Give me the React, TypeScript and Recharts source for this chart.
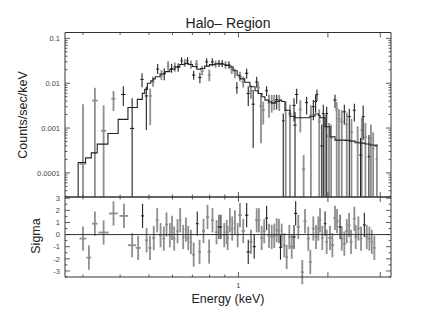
import React from 'react'
import {
  ComposedChart, Scatter, Line, ErrorBar, XAxis, YAxis, ReferenceLine,
} from 'recharts'

// bars that run off the bottom of the log panel end at the axis floor
const FLOOR = 2.9e-5

// [energy keV, half-width keV, rate, lower, upper]  (counts/sec/keV)
const blackSpec: number[][] = [
  [0.410, 0.007, 0.0056, 0.0031, 0.0085],
  [0.439, 0.007, 0.00098, FLOOR, 0.0046],
  [0.474, 0.006, 0.0121, 0.0081, 0.0166],
  [0.490, 0.006, 0.0052, 0.0009, 0.0083],
  [0.535, 0.006, 0.0206, 0.016, 0.0267],
  [0.563, 0.006, 0.0166, 0.0117, 0.0216],
  [0.596, 0.006, 0.0213, 0.017, 0.027],
  [0.627, 0.006, 0.0225, 0.018, 0.028],
  [0.644, 0.006, 0.0316, 0.026, 0.038],
  [0.674, 0.006, 0.0316, 0.026, 0.038],
  [0.707, 0.009, 0.0152, 0.012, 0.019],
  [0.742, 0.009, 0.0134, 0.010, 0.017],
  [0.782, 0.009, 0.0298, 0.024, 0.036],
  [0.817, 0.009, 0.0298, 0.024, 0.036],
  [0.860, 0.009, 0.0277, 0.023, 0.033],
  [0.882, 0.009, 0.0277, 0.023, 0.033],
  [0.929, 0.009, 0.0254, 0.021, 0.031],
  [0.988, 0.009, 0.0079, 0.0058, 0.0105],
  [1.066, 0.014, 0.0166, 0.0125, 0.021],
  [1.079, 0.014, 0.0059, 0.0031, 0.0085],
  [1.121, 0.014, 0.0034, 0.00036, 0.0070],
  [1.152, 0.014, 0.0107, 0.008, 0.014],
  [1.244, 0.014, 0.0068, 0.0052, 0.0085],
  [1.345, 0.014, 0.0043, 0.0026, 0.0055],
  [1.415, 0.014, 0.00145, FLOOR, 0.0021],
  [1.538, 0.02, 0.0032, 0.0014, 0.0046],
  [1.550, 0.02, 0.00116, FLOOR, 0.0023],
  [1.570, 0.02, 0.0056, 0.0035, 0.0075],
  [1.696, 0.02, 0.0037, 0.002, 0.005],
  [1.786, 0.02, 0.003, 0.0015, 0.0042],
  [1.818, 0.02, 0.0039, 0.0022, 0.0055],
  [1.837, 0.02, 0.0056, 0.004, 0.0072],
  [1.907, 0.02, 0.0004, FLOOR, 0.0012],
  [1.930, 0.02, 0.0021, FLOOR, 0.0033],
  [1.981, 0.02, 0.0021, FLOOR, 0.003],
  [2.113, 0.028, 0.0042, 0.0028, 0.0055],
  [2.271, 0.028, 0.0023, 0.0012, 0.0033],
  [2.360, 0.028, 0.0018, FLOOR, 0.0027],
  [2.454, 0.028, 0.0025, 0.0014, 0.0035],
  [2.575, 0.028, 0.00025, FLOOR, 0.0006],
  [2.628, 0.028, 0.0018, 0.00055, 0.0032],
  [2.747, 0.028, 0.00023, FLOOR, 0.0007],
]

const graySpec: number[][] = [
  [0.300, 0.008, 0.00016, FLOOR, 0.0034],
  [0.329, 0.007, 0.0041, FLOOR, 0.0079],
  [0.352, 0.007, 0.00087, FLOOR, 0.0032],
  [0.380, 0.006, 0.0045, 0.0024, 0.0067],
  [0.505, 0.006, 0.0052, 0.00116, 0.0076],
  [0.516, 0.006, 0.0107, 0.0083, 0.0139],
  [0.551, 0.006, 0.0152, 0.0117, 0.0196],
  [0.580, 0.006, 0.024, 0.019, 0.031],
  [0.611, 0.006, 0.0231, 0.018, 0.029],
  [0.660, 0.006, 0.0285, 0.023, 0.035],
  [0.692, 0.006, 0.0263, 0.021, 0.032],
  [0.723, 0.009, 0.0267, 0.021, 0.033],
  [0.755, 0.009, 0.0188, 0.015, 0.024],
  [0.798, 0.009, 0.0152, 0.011, 0.020],
  [0.838, 0.009, 0.0267, 0.022, 0.032],
  [0.905, 0.009, 0.0254, 0.021, 0.031],
  [0.949, 0.009, 0.0204, 0.016, 0.025],
  [0.973, 0.009, 0.017, 0.013, 0.021],
  [1.012, 0.014, 0.0139, 0.011, 0.018],
  [1.038, 0.014, 0.0107, 0.008, 0.014],
  [1.102, 0.014, 0.0067, 0.0045, 0.009],
  [1.166, 0.014, 0.0079, 0.0058, 0.0105],
  [1.191, 0.014, 0.0031, 0.00046, 0.0059],
  [1.212, 0.014, 0.0025, 0.0012, 0.0039],
  [1.267, 0.014, 0.0036, 0.0017, 0.0055],
  [1.294, 0.014, 0.0039, 0.0022, 0.0055],
  [1.320, 0.014, 0.0042, 0.0025, 0.0055],
  [1.372, 0.014, 0.0041, 0.0024, 0.0055],
  [1.442, 0.014, 0.0025, FLOOR, 0.0039],
  [1.491, 0.02, 0.0021, FLOOR, 0.0033],
  [1.615, 0.02, 0.0026, 0.0008, 0.0042],
  [1.657, 0.02, 0.00012, FLOOR, 0.00025],
  [1.753, 0.02, 0.0019, FLOOR, 0.0032],
  [1.870, 0.02, 0.0014, FLOOR, 0.0026],
  [1.956, 0.02, 0.0012, FLOOR, 0.002],
  [2.017, 0.028, 0.00066, FLOOR, 0.0013],
  [2.050, 0.028, 0.0006, FLOOR, 0.0012],
  [2.141, 0.028, 0.0026, FLOOR, 0.0038],
  [2.179, 0.028, 0.0016, FLOOR, 0.0026],
  [2.226, 0.028, 0.0014, FLOOR, 0.0025],
  [2.314, 0.028, 0.0012, FLOOR, 0.0022],
  [2.400, 0.028, 0.0008, FLOOR, 0.0016],
  [2.518, 0.028, 0.0005, FLOOR, 0.0011],
  [2.600, 0.028, 0.0009, FLOOR, 0.0017],
  [2.674, 0.028, 0.00062, FLOOR, 0.0013],
  [2.790, 0.028, 0.0006, FLOOR, 0.0012],
  [2.839, 0.028, 0.00035, FLOOR, 0.0008],
  [2.922, 0.028, 0.0002, FLOOR, 0.00044],
]

// folded model, [bin start keV, counts/sec/keV], drawn as a histogram
const model: number[][] = [
  [0.286, FLOOR], [0.289, 1.70e-4], [0.306, 2.16e-4], [0.320, 2.79e-4],
  [0.335, 4.37e-4], [0.364, 7.57e-4], [0.394, 1.56e-3], [0.425, 2.88e-3],
  [0.457, 4.35e-3], [0.475, 5.92e-3], [0.484, 7.27e-3], [0.494, 0.0100],
  [0.507, 0.0113], [0.516, 0.0125], [0.525, 0.0139], [0.545, 0.0160],
  [0.566, 0.0181], [0.588, 0.0205], [0.611, 0.0231], [0.635, 0.0262],
  [0.660, 0.0277], [0.680, 0.0262], [0.700, 0.0235], [0.725, 0.0204],
  [0.745, 0.0213], [0.770, 0.0240], [0.800, 0.0260], [0.835, 0.0270],
  [0.870, 0.0265], [0.905, 0.0250], [0.936, 0.0230], [0.960, 0.0190],
  [0.990, 0.0150], [1.012, 0.0125], [1.050, 0.0105], [1.093, 0.0083],
  [1.137, 0.0068], [1.166, 0.0059], [1.200, 0.0050], [1.228, 0.0042],
  [1.265, 0.0038], [1.294, 0.0036], [1.330, 0.0039], [1.370, 0.0042],
  [1.398, 0.0039], [1.434, 0.0025], [1.491, 0.00183], [1.550, 0.0017],
  [1.611, 0.0017], [1.675, 0.0017], [1.741, 0.00183], [1.810, 0.00206],
  [1.860, 0.0019], [1.881, 0.0017], [1.956, 0.00107], [2.033, 0.00064],
  [2.113, 0.000537], [2.197, 0.000537], [2.284, 0.00053], [2.374, 0.00051],
  [2.468, 0.00047], [2.566, 0.00046], [2.667, 0.00044], [2.772, 0.00042],
  [2.882, 0.0004], [2.93, 0.0004],
]

// residuals, [energy keV, half-width keV, sigma]
const blackResid: number[][] = [
  [0.476, 0.006, 1.54], [0.727, 0.008, 0.9], [0.860, 0.009, 0.63],
  [0.873, 0.009, 0.63], [1.066, 0.014, 1.6], [1.079, 0.014, -1.43],
  [1.130, 0.014, -1.0], [1.244, 0.014, 1.37], [1.385, 0.014, -1.07],
  [1.538, 0.02, -0.2], [1.558, 0.02, 1.74], [1.956, 0.02, 0.9],
  [2.197, 0.028, 0.63], [2.652, 0.028, 0.8],
]

const grayResid: number[][] = [
  [0.300, 0.008, -0.33], [0.314, 0.006, -1.9], [0.329, 0.007, 0.9],
  [0.352, 0.014, 0.17], [0.380, 0.013, 1.74], [0.412, 0.014, 1.54],
  [0.439, 0.014, -0.88], [0.460, 0.009, -1.1], [0.491, 0.006, -0.47],
  [0.504, 0.006, -1.1], [0.519, 0.006, -0.28], [0.533, 0.006, 1.18],
  [0.547, 0.006, -0.05], [0.561, 0.006, -0.33], [0.573, 0.006, 0.83],
  [0.588, 0.006, -0.05], [0.598, 0.006, 0.55], [0.608, 0.006, -0.33],
  [0.624, 0.006, 0.28], [0.637, 0.006, 1.18], [0.652, 0.006, -0.2],
  [0.666, 0.006, 0.41], [0.678, 0.006, -0.28], [0.692, 0.006, -0.61],
  [0.707, 0.008, -1.65], [0.740, 0.008, -1.43], [0.763, 0.009, 0.3],
  [0.787, 0.009, 1.45], [0.797, 0.009, -1.4], [0.818, 0.009, 1.18],
  [0.844, 0.009, 0.2], [0.896, 0.009, -0.05], [0.920, 0.009, -0.28],
  [0.913, 0.009, 0.2], [0.936, 0.009, 1.18], [0.953, 0.009, 0.5],
  [0.973, 0.009, 1.0], [0.994, 0.009, -0.05], [1.012, 0.014, 1.6],
  [1.038, 0.014, 0.3], [1.102, 0.014, -0.6], [1.152, 0.014, 1.18],
  [1.172, 0.014, 1.18], [1.197, 0.014, -0.28], [1.221, 0.014, 0.28],
  [1.267, 0.014, -0.1], [1.294, 0.014, -0.2], [1.320, 0.014, -0.1],
  [1.345, 0.014, 0.36], [1.369, 0.014, 0.28], [1.398, 0.014, -0.1],
  [1.427, 0.014, -0.88], [1.453, 0.014, -1.85], [1.483, 0.014, -0.2],
  [1.511, 0.02, -1.0], [1.590, 0.02, 0.63], [1.640, 0.02, -3.1],
  [1.675, 0.02, 1.1], [1.718, 0.02, -0.33], [1.745, 0.02, -2.26],
  [1.786, 0.02, 0.5], [1.824, 0.02, -0.2], [1.857, 0.02, 0.5],
  [1.881, 0.02, 1.18], [1.915, 0.02, -0.28], [1.981, 0.02, -0.6],
  [2.033, 0.028, -0.28], [2.070, 0.028, -0.88], [2.113, 0.028, 1.37],
  [2.146, 0.028, 1.1], [2.226, 0.028, -0.33], [2.271, 0.028, -0.75],
  [2.314, 0.028, 0.28], [2.356, 0.028, 0.77], [2.392, 0.028, -0.6],
  [2.454, 0.028, 1.3], [2.481, 0.028, -0.2], [2.532, 0.028, 0.5],
  [2.585, 0.028, -0.33], [2.702, 0.028, -0.2], [2.757, 0.028, -0.33],
  [2.809, 0.028, -0.6], [2.866, 0.028, -1.1],
]

const energyTicks = [0.3, 0.4, 0.5, 0.6, 0.7, 0.8, 0.9, 1, 2, 3]
const energyMajor = [1, 2, 3]
const energyLabels = [1]
const countTicks = [
  0.00003, 0.00004, 0.00005, 0.00006, 0.00007, 0.00008, 0.00009,
  0.0001, 0.0002, 0.0003, 0.0004, 0.0005, 0.0006, 0.0007, 0.0008, 0.0009,
  0.001, 0.002, 0.003, 0.004, 0.005, 0.006, 0.007, 0.008, 0.009,
  0.01, 0.02, 0.03, 0.04, 0.05, 0.06, 0.07, 0.08, 0.09, 0.1,
]
const countMajor = [0.0001, 0.001, 0.01, 0.1]
const sigmaTicks = [-3.5, -3, -2.5, -2, -1.5, -1, -0.5, 0, 0.5, 1, 1.5, 2, 2.5, 3]
const sigmaMajor = [-3, -2, -1, 0, 1, 2, 3]

const specRows = (a: number[][]) => a.map(([e, de, v, lo, hi]) => ({ e, de, v, lo, hi }))
const residRows = (a: number[][]) => a.map(([e, de, s]) => ({ e, de, s }))
const modelRows = model.map(([e, v]) => ({ e, v }))

const INK = '#222'
const GRAY = '#8e8e8e'
const FONT = '"Liberation Sans", Arial, Helvetica, sans-serif'
const E_DOMAIN: [number, number] = [0.261, 3.26]

type Side = 'left' | 'right' | 'top' | 'bottom'

// ticks drawn inward from the frame, labels outside
function frameTick(side: Side, major: number[], labels: number[]) {
  return (props: any) => {
    const { x, y, payload } = props
    const v = payload.value
    const isMajor = major.some(m => Math.abs(m - v) < 1e-9)
    const len = isMajor ? 5 : 2.5
    let x2 = x, y2 = y
    if (side === 'left') x2 = x + len
    if (side === 'right') x2 = x - len
    if (side === 'top') y2 = y + len
    if (side === 'bottom') y2 = y - len
    const showLabel = labels.some(m => Math.abs(m - v) < 1e-9)
    return (
      <g>
        <line x1={x} y1={y} x2={x2} y2={y2} stroke="#333" strokeWidth={0.8} />
        {showLabel && side === 'left' && (
          <text x={x - 5} y={y + 2.7} textAnchor="end" fontSize={7.5} fill="#444" fontFamily={FONT}>
            {String(v)}
          </text>
        )}
        {showLabel && side === 'bottom' && (
          <text x={x} y={y + 11} textAnchor="middle" fontSize={7.5} fill="#444" fontFamily={FONT}>
            {String(v)}
          </text>
        )}
      </g>
    )
  }
}

const noShape = () => <g />

function SpecSeries({ rows, color, width }: { rows: any[]; color: string; width: number }) {
  return (
    <Scatter
      data={rows}
      dataKey="v"
      xAxisId="xb"
      yAxisId="yl"
      shape={noShape}
      isAnimationActive={false}
      legendType="none"
    >
      <ErrorBar dataKey={(d: any) => [d.v - d.lo, d.hi - d.v]} direction="y" width={0} stroke={color} strokeWidth={width} />
      <ErrorBar dataKey={(d: any) => [d.de, d.de]} direction="x" width={0} stroke={color} strokeWidth={width} />
    </Scatter>
  )
}

function ResidSeries({ rows, color, width }: { rows: any[]; color: string; width: number }) {
  return (
    <Scatter
      data={rows}
      dataKey="s"
      xAxisId="xb"
      yAxisId="yl"
      shape={noShape}
      isAnimationActive={false}
      legendType="none"
    >
      <ErrorBar dataKey={() => [1, 1]} direction="y" width={0} stroke={color} strokeWidth={width} />
      <ErrorBar dataKey={(d: any) => [d.de, d.de]} direction="x" width={0} stroke={color} strokeWidth={width} />
    </Scatter>
  )
}

export default function App() {
  const axisLine = { stroke: '#333', strokeWidth: 1 }
  return (
    <div style={{ position: 'absolute', left: 0, top: 0, width: 436, height: 327, background: '#fff' }}>
      {/* spectrum panel: plot box x 65..391, y 32.5..197 */}
      <div style={{ position: 'absolute', left: 0, top: 0 }}>
        <ComposedChart width={436} height={327} margin={{ top: 31.5, right: 44, bottom: 129, left: 64 }}>
          <XAxis xAxisId="xb" dataKey="e" type="number" scale="log" domain={E_DOMAIN} allowDataOverflow
            orientation="bottom" height={1} ticks={energyTicks} interval={0} tickSize={0} tickMargin={0}
            tickLine={false} axisLine={axisLine} tick={frameTick('bottom', energyMajor, [])} />
          <XAxis xAxisId="xt" dataKey="e" type="number" scale="log" domain={E_DOMAIN} allowDataOverflow
            orientation="top" height={1} ticks={energyTicks} interval={0} tickSize={0} tickMargin={0}
            tickLine={false} axisLine={axisLine} tick={frameTick('top', energyMajor, [])} />
          <YAxis yAxisId="yl" dataKey="v" type="number" scale="log" domain={[FLOOR, 0.135]} allowDataOverflow
            orientation="left" width={1} ticks={countTicks} interval={0} tickSize={0} tickMargin={0}
            tickLine={false} axisLine={axisLine} tick={frameTick('left', countMajor, countMajor)} />
          <YAxis yAxisId="yr" dataKey="v" type="number" scale="log" domain={[FLOOR, 0.135]} allowDataOverflow
            orientation="right" width={1} ticks={countTicks} interval={0} tickSize={0} tickMargin={0}
            tickLine={false} axisLine={axisLine} tick={frameTick('right', countMajor, [])} />
          <SpecSeries rows={specRows(graySpec)} color={GRAY} width={1.8} />
          <SpecSeries rows={specRows(blackSpec)} color={INK} width={1.1} />
          <Line data={modelRows} dataKey="v" xAxisId="xb" yAxisId="yl" type="stepAfter" dot={false}
            stroke={INK} strokeWidth={1.1} isAnimationActive={false} legendType="none" />
        </ComposedChart>
      </div>

      {/* residual panel: plot box x 65..391, y 197..277 */}
      <div style={{ position: 'absolute', left: 0, top: 0 }}>
        <ComposedChart width={436} height={327} margin={{ top: 196, right: 44, bottom: 49, left: 64 }}>
          <XAxis xAxisId="xb" dataKey="e" type="number" scale="log" domain={E_DOMAIN} allowDataOverflow
            orientation="bottom" height={1} ticks={energyTicks} interval={0} tickSize={0} tickMargin={0}
            tickLine={false} axisLine={axisLine} tick={frameTick('bottom', energyMajor, energyLabels)} />
          <XAxis xAxisId="xt" dataKey="e" type="number" scale="log" domain={E_DOMAIN} allowDataOverflow
            orientation="top" height={1} ticks={energyTicks} interval={0} tickSize={0} tickMargin={0}
            tickLine={false} axisLine={axisLine} tick={frameTick('top', energyMajor, [])} />
          <YAxis yAxisId="yl" dataKey="s" type="number" domain={[-3.5, 3.1]} allowDataOverflow
            orientation="left" width={1} ticks={sigmaTicks} interval={0} tickSize={0} tickMargin={0}
            tickLine={false} axisLine={axisLine} tick={frameTick('left', sigmaMajor, sigmaMajor)} />
          <YAxis yAxisId="yr" dataKey="s" type="number" domain={[-3.5, 3.1]} allowDataOverflow
            orientation="right" width={1} ticks={sigmaTicks} interval={0} tickSize={0} tickMargin={0}
            tickLine={false} axisLine={axisLine} tick={frameTick('right', sigmaMajor, [])} />
          <ResidSeries rows={residRows(grayResid)} color={GRAY} width={1.8} />
          <ResidSeries rows={residRows(blackResid)} color={INK} width={1.1} />
          <ReferenceLine y={0} xAxisId="xb" yAxisId="yl" stroke="#333" strokeWidth={1} />
        </ComposedChart>
      </div>

      {/* titles */}
      <svg width={436} height={327} style={{ position: 'absolute', left: 0, top: 0, pointerEvents: 'none' }}>
        <text x={228} y={28} textAnchor="middle" fontSize={14} fill={INK} fontFamily={FONT}>Halo– Region</text>
        <text transform="translate(27,115) rotate(-90)" textAnchor="middle" fontSize={12.5} fill={INK} fontFamily={FONT}>
          Counts/sec/keV
        </text>
        <text transform="translate(40,236) rotate(-90)" textAnchor="middle" fontSize={12.5} fill={INK} fontFamily={FONT}>
          Sigma
        </text>
        <text x={228} y={303} textAnchor="middle" fontSize={12.5} fill={INK} fontFamily={FONT}>Energy (keV)</text>
      </svg>
    </div>
  )
}
